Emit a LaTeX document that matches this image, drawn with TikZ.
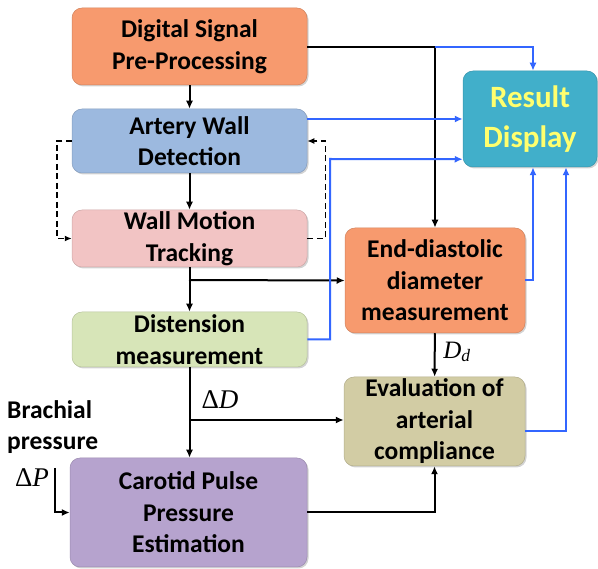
\documentclass[tikz,border=0pt]{standalone}
\usepackage{fontspec}
\setmainfont{Carlito}
\newfontfamily\tms{Liberation Serif}
\usetikzlibrary{arrows.meta,shadows}
\definecolor{cOrange}{HTML}{F79A6E}
\definecolor{cBlue}{HTML}{9CB9DF}
\definecolor{cPink}{HTML}{F2C4C4}
\definecolor{cGreen}{HTML}{D7E5B8}
\definecolor{cPurple}{HTML}{B6A3CE}
\definecolor{cKhaki}{HTML}{D2CCA4}
\definecolor{cTeal}{HTML}{41AFCA}
\definecolor{cYellow}{HTML}{FFFF6E}
\definecolor{cLine}{HTML}{3366FF}
\tikzset{
  box/.style={rectangle, rounded corners=10pt, fill=#1, draw=#1!85!black, line width=0.5pt,
    align=center, inner sep=1pt, font=\bfseries\fontsize{25.5}{31.5}\selectfont,
    drop shadow={opacity=0.35, shadow xshift=1.5pt, shadow yshift=-1.5pt}},
  arr/.style={line width=2pt, -{Latex[length=8pt,width=7pt]}},
  plain/.style={line width=2pt},
  barr/.style={line width=2pt, cLine, -{Latex[length=8pt,width=7pt]}},
  darr/.style={line width=1.5pt, dashed, dash pattern=on 6pt off 3.5pt, -{Latex[length=7pt,width=6pt]}},
  lbl/.style={font=\bfseries\fontsize{25.5}{31}\selectfont, align=left, inner sep=0pt},
  mlbl/.style={font=\tms\fontsize{27}{30}\selectfont, inner sep=0pt}
}
\begin{document}
\begin{tikzpicture}[x=1pt,y=-1pt]
\useasboundingbox (0,0) rectangle (598,569);
% boxes
\node[box=cOrange, minimum width=235pt, minimum height=77pt] (dsp) at (189.5,46.5) {Digital Signal\\Pre-Processing};
\node[box=cBlue, minimum width=235pt, minimum height=64pt] (awd) at (189.5,141) {Artery Wall\\Detection};
\node[box=cPink, minimum width=235pt, minimum height=57pt] (wmt) at (189.5,238.5) {Wall Motion\\Tracking};
\node[box=cGreen, minimum width=235pt, minimum height=55pt] (dis) at (189.5,339.5) {Distension\\measurement};
\node[box=cPurple, minimum width=237pt, minimum height=109pt] (car) at (188.5,512.5) {Carotid Pulse\\Pressure\\Estimation};
\node[box=cTeal, minimum width=134pt, minimum height=96pt, text=cYellow, font=\bfseries\fontsize{31}{40}\selectfont] (res) at (530,119) {Result\\Display};
\node[box=cOrange, minimum width=180pt, minimum height=105pt] (edm) at (435,280.5) {End-diastolic\\diameter\\measurement};
\node[box=cKhaki, minimum width=181pt, minimum height=89pt] (eva) at (434.5,421.5) {Evaluation of\\arterial\\compliance};
% labels
\node[lbl, anchor=west] (brp) at (7,427) {Brachial\\pressure};
\node[mlbl] (dp) at (32,478) {Δ\textit{P}};
\node[mlbl] (dd) at (220,400) {Δ\textit{D}};
\node[mlbl, font=\tms\fontsize{25}{28}\selectfont] (ddl) at (457,352) {\textit{D}\textsubscript{\textit{d}}};
% coordinates
\coordinate (j1) at (189,280);
\coordinate (j2) at (435,47);
\coordinate (j3) at (189,420);
\coordinate (c1) at (330,159);
\coordinate (p0) at (55,468);
% black connectors
\draw[arr] (dsp) -- (awd);
\draw[arr] (awd) -- (wmt);
\draw[arr] (wmt) -- (dis);
\draw[arr] (j1) -- (edm.west);
\draw[plain] (dsp.east |- j2) -- (j2);
\draw[arr] (j2) -- (edm.north);
\draw[arr] (edm) -- (eva);
\draw[arr] (dis.south) -- (dis.south |- car.north);
\draw[arr] (j3) -- (j3 -| eva.west);
\draw[arr] (car.east) -| (eva.south);
\draw[arr] (p0) |- (car.west);
% dashed loops
\draw[darr] (wmt.east) -- ++(18,0) |- (awd.east);
\draw[darr] (awd.west) -- ++(-15,0) |- (wmt.west);
% blue connectors
\draw[barr] (j2) -| ([xshift=3pt]res.north);
\draw[barr] (awd.east |- res.west) -- (res.west);
\draw[barr] (dis.east) -| (c1) -- ([yshift=8pt]res.south west);
\draw[barr] (edm.east) -| ([xshift=3pt]res.south);
\draw[barr] ([yshift=-10pt]eva.east) -| ([xshift=36pt]res.south);
\end{tikzpicture}
\end{document}
